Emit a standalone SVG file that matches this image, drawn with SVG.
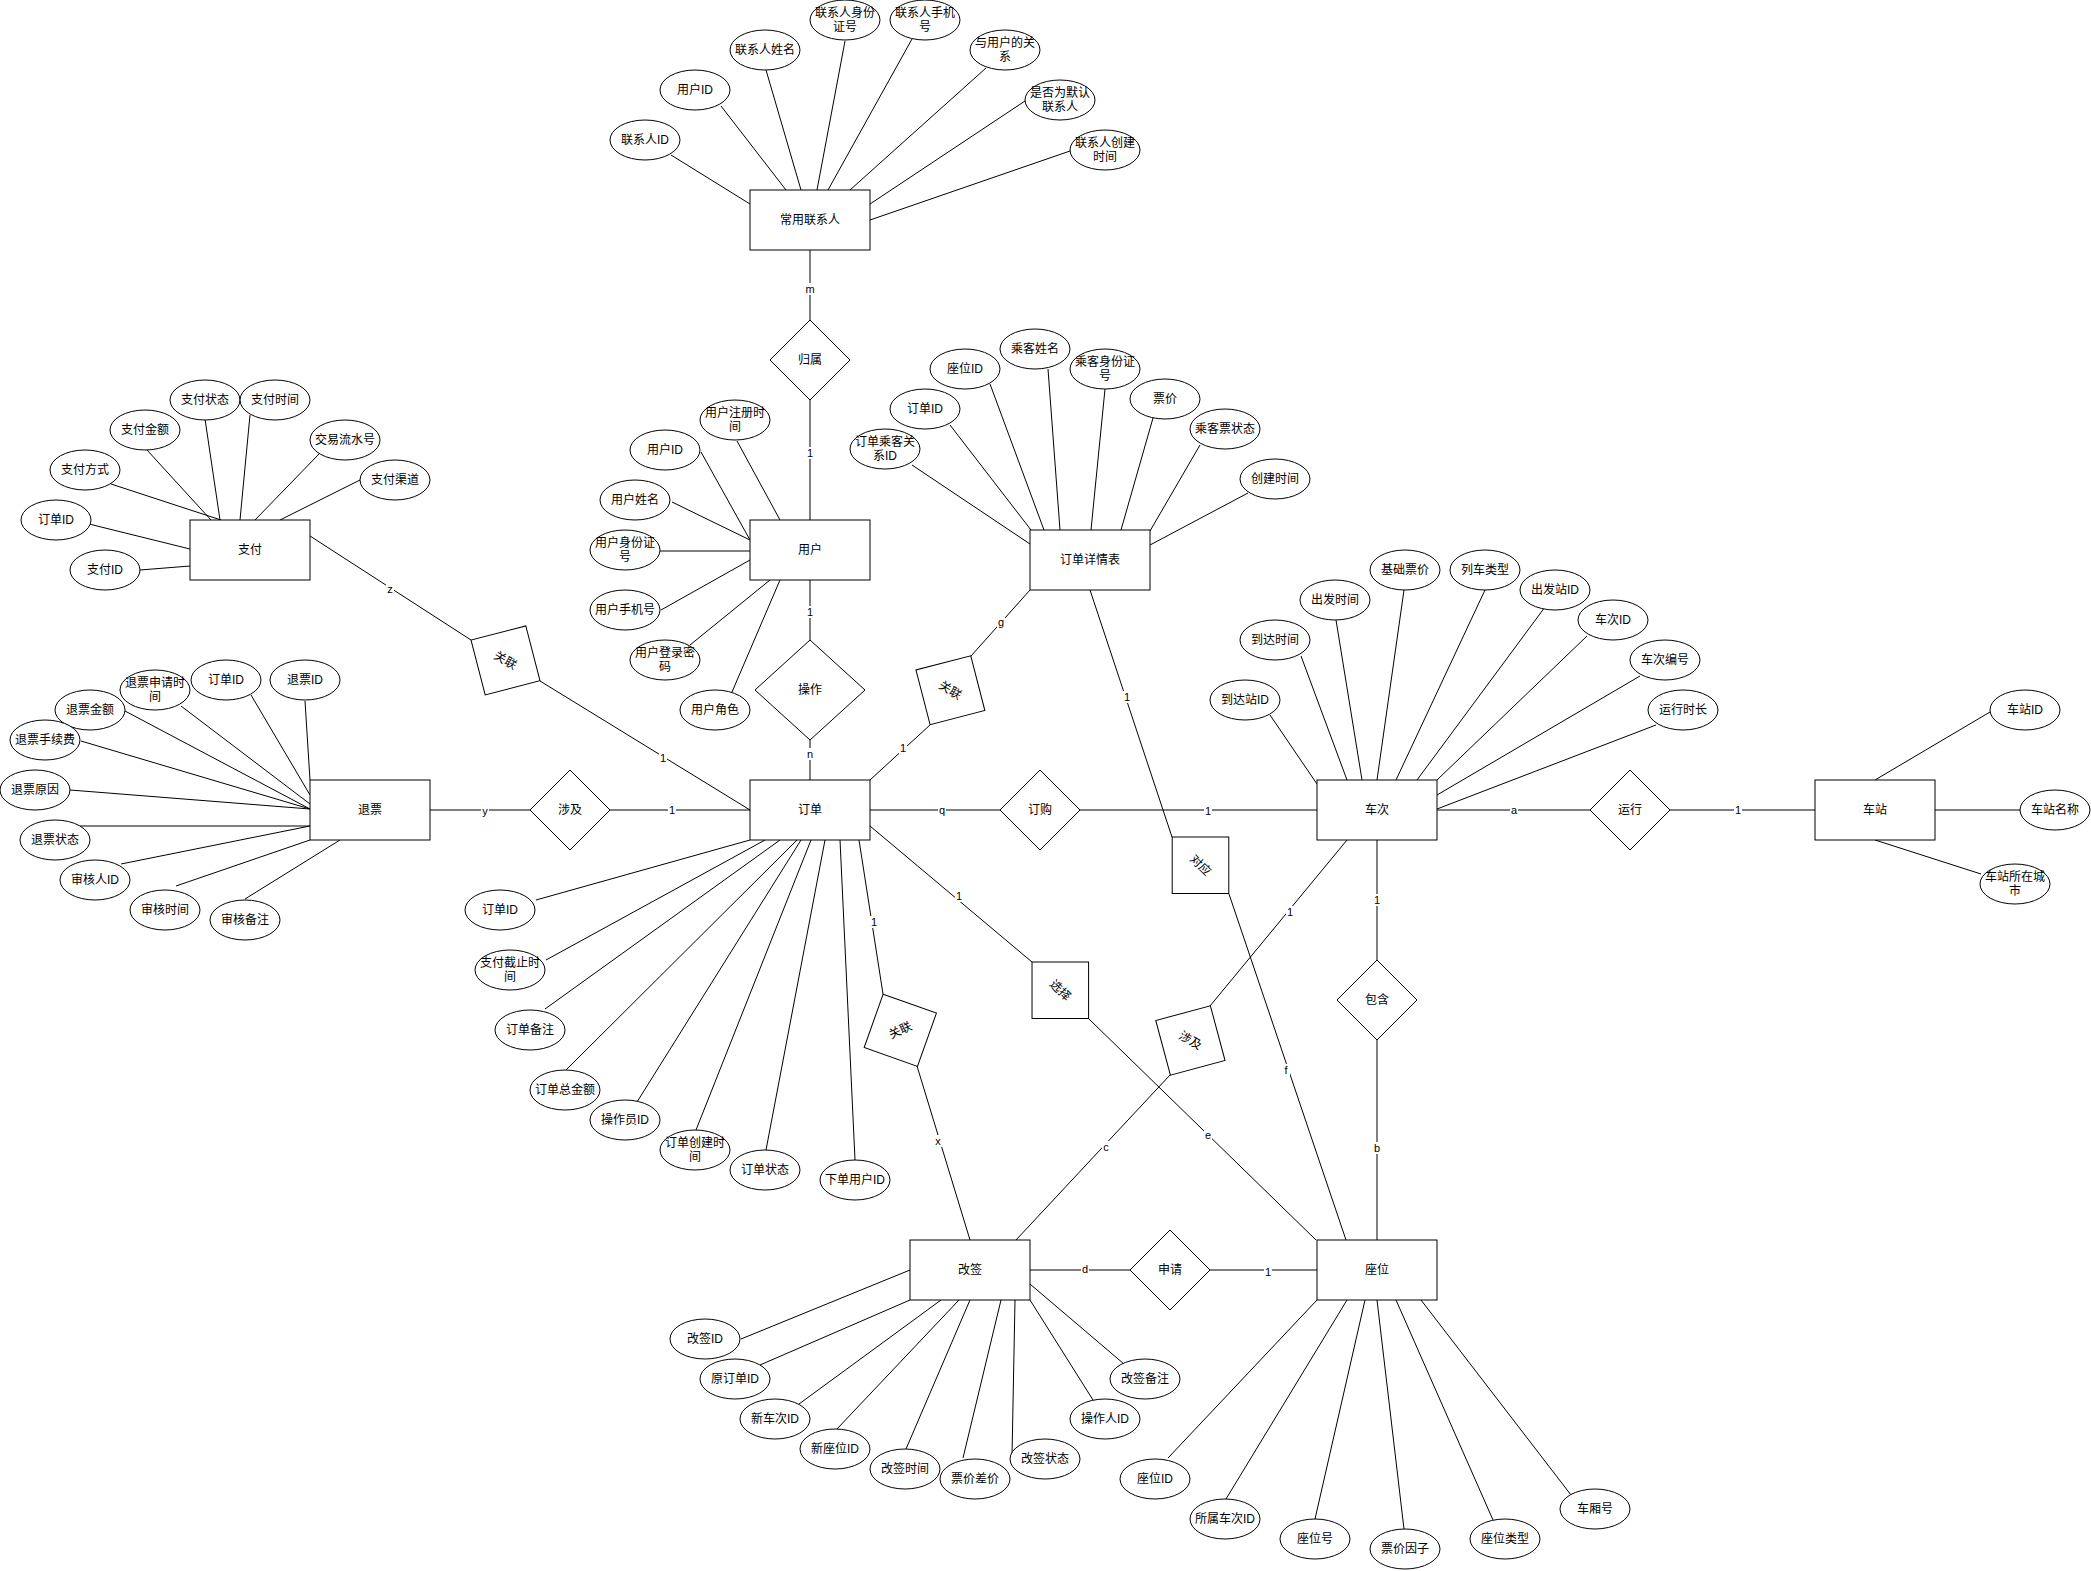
<svg xmlns="http://www.w3.org/2000/svg" width="2091" height="1571" viewBox="0 0 2091 1571">
<style>
.bg{fill:#fff}
.n{fill:#fff;stroke:#000;stroke-width:1}
.c line{stroke:#000;stroke-width:1;fill:none}
.lb{fill:#fff;stroke:none}
text{font-family:"Liberation Sans","Noto Sans CJK SC",sans-serif;font-size:12px;text-anchor:middle;dominant-baseline:central;fill:#000}
.lt{font-size:11px}
</style>
<rect class="bg" x="0" y="0" width="2091" height="1571"/>
<g id="connectors" class="c">
<!-- relationship lines -->
<line x1="810" y1="250" x2="810" y2="320"/>
<line x1="810" y1="400" x2="810" y2="520"/>
<line x1="810" y1="580" x2="810" y2="640"/>
<line x1="810" y1="740" x2="810" y2="780"/>
<line x1="870" y1="810" x2="1000" y2="810"/>
<line x1="1080" y1="810" x2="1317" y2="810"/>
<line x1="430" y1="810" x2="530" y2="810"/>
<line x1="610" y1="810" x2="750" y2="810"/>
<line x1="1437" y1="810" x2="1590" y2="810"/>
<line x1="1670" y1="810" x2="1815" y2="810"/>
<line x1="1377" y1="840" x2="1377" y2="960"/>
<line x1="1377" y1="1040" x2="1377" y2="1240"/>
<line x1="1030" y1="1270" x2="1130" y2="1270"/>
<line x1="1210" y1="1270" x2="1317" y2="1270"/>
<line x1="310" y1="536" x2="471" y2="640"/>
<line x1="540" y1="681" x2="750" y2="810"/>
<line x1="870" y1="780" x2="930" y2="725"/>
<line x1="971" y1="656" x2="1030" y2="590"/>
<line x1="1090" y1="590" x2="1172" y2="837"/>
<line x1="1229" y1="894" x2="1346" y2="1240"/>
<line x1="870" y1="826" x2="1032" y2="962"/>
<line x1="1089" y1="1019" x2="1316" y2="1240"/>
<line x1="859" y1="840" x2="883" y2="994"/>
<line x1="917" y1="1066" x2="970" y2="1240"/>
<line x1="1347" y1="840" x2="1210" y2="1006"/>
<line x1="1170" y1="1075" x2="1016" y2="1240"/>
<!-- 常用联系人 attributes -->
<line x1="671" y1="155" x2="750" y2="204"/>
<line x1="721" y1="106" x2="786" y2="190"/>
<line x1="766" y1="70" x2="801" y2="190"/>
<line x1="845" y1="41" x2="817" y2="190"/>
<line x1="912" y1="39" x2="828" y2="190"/>
<line x1="986" y1="68" x2="850" y2="190"/>
<line x1="1025" y1="101" x2="870" y2="204"/>
<line x1="1070" y1="151" x2="870" y2="220"/>
<!-- 用户 attributes -->
<line x1="737" y1="441" x2="780" y2="520"/>
<line x1="701" y1="452" x2="750" y2="540"/>
<line x1="672" y1="502" x2="750" y2="540"/>
<line x1="660" y1="551" x2="750" y2="551"/>
<line x1="661" y1="610" x2="750" y2="560"/>
<line x1="690" y1="645" x2="770" y2="580"/>
<line x1="732" y1="692" x2="780" y2="580"/>
<!-- 支付 attributes -->
<line x1="205" y1="419" x2="220" y2="520"/>
<line x1="250" y1="415" x2="240" y2="520"/>
<line x1="147" y1="450" x2="211" y2="520"/>
<line x1="319" y1="454" x2="255" y2="520"/>
<line x1="111" y1="484" x2="221" y2="520"/>
<line x1="360" y1="480" x2="280" y2="520"/>
<line x1="89" y1="524" x2="190" y2="549"/>
<line x1="140" y1="570" x2="190" y2="566"/>
<!-- 退票 attributes -->
<line x1="305" y1="701" x2="310" y2="780"/>
<line x1="251" y1="695" x2="310" y2="795"/>
<line x1="181" y1="706" x2="310" y2="804"/>
<line x1="125" y1="711" x2="310" y2="809"/>
<line x1="81" y1="741" x2="310" y2="809"/>
<line x1="70" y1="790" x2="310" y2="809"/>
<line x1="80" y1="826" x2="310" y2="826"/>
<line x1="121" y1="864" x2="310" y2="826"/>
<line x1="176" y1="886" x2="310" y2="840"/>
<line x1="245" y1="899" x2="340" y2="840"/>
<!-- 订单 attributes -->
<line x1="536" y1="900" x2="750" y2="840"/>
<line x1="546" y1="960" x2="765" y2="840"/>
<line x1="545" y1="1009" x2="780" y2="840"/>
<line x1="566" y1="1070" x2="797" y2="840"/>
<line x1="637" y1="1102" x2="801" y2="840"/>
<line x1="696" y1="1130" x2="811" y2="840"/>
<line x1="766" y1="1150" x2="825" y2="840"/>
<line x1="855" y1="1160" x2="840" y2="840"/>
<!-- 订单详情表 attributes -->
<line x1="912" y1="465" x2="1030" y2="544"/>
<line x1="950" y1="425" x2="1031" y2="530"/>
<line x1="990" y1="384" x2="1044" y2="530"/>
<line x1="1048" y1="369" x2="1060" y2="530"/>
<line x1="1105" y1="389" x2="1091" y2="530"/>
<line x1="1153" y1="418" x2="1121" y2="530"/>
<line x1="1200" y1="445" x2="1150" y2="531"/>
<line x1="1248" y1="493" x2="1150" y2="545"/>
<!-- 车次 attributes -->
<line x1="1270" y1="715" x2="1317" y2="784"/>
<line x1="1301" y1="656" x2="1347" y2="780"/>
<line x1="1336" y1="620" x2="1362" y2="780"/>
<line x1="1404" y1="590" x2="1377" y2="780"/>
<line x1="1485" y1="590" x2="1396" y2="780"/>
<line x1="1545" y1="607" x2="1417" y2="780"/>
<line x1="1587" y1="636" x2="1437" y2="780"/>
<line x1="1640" y1="676" x2="1437" y2="795"/>
<line x1="1656" y1="725" x2="1437" y2="809"/>
<!-- 车站 attributes -->
<line x1="1990" y1="712" x2="1875" y2="780"/>
<line x1="1935" y1="810" x2="2021" y2="810"/>
<line x1="1875" y1="840" x2="1981" y2="874"/>
<!-- 改签 attributes -->
<line x1="741" y1="1339" x2="910" y2="1270"/>
<line x1="760" y1="1365" x2="910" y2="1300"/>
<line x1="799" y1="1404" x2="941" y2="1300"/>
<line x1="836" y1="1430" x2="959" y2="1300"/>
<line x1="906" y1="1449" x2="970" y2="1300"/>
<line x1="963" y1="1458" x2="1001" y2="1300"/>
<line x1="1012" y1="1456" x2="1015" y2="1300"/>
<line x1="1093" y1="1400" x2="1030" y2="1300"/>
<line x1="1124" y1="1364" x2="1030" y2="1284"/>
<!-- 座位 attributes -->
<line x1="1168" y1="1458" x2="1317" y2="1300"/>
<line x1="1226" y1="1499" x2="1347" y2="1300"/>
<line x1="1315" y1="1519" x2="1365" y2="1300"/>
<line x1="1404" y1="1529" x2="1377" y2="1300"/>
<line x1="1493" y1="1520" x2="1396" y2="1300"/>
<line x1="1571" y1="1495" x2="1421" y2="1300"/>
<!-- edge labels -->
<g id="labels">
<rect class="lb" x="805" y="283" width="10" height="12"/><text class="lt" x="810" y="289">m</text>
<rect class="lb" x="806" y="447" width="8" height="12"/><text class="lt" x="810" y="453">1</text>
<rect class="lb" x="806" y="606" width="8" height="12"/><text class="lt" x="810" y="612">1</text>
<rect class="lb" x="806" y="748" width="8" height="12"/><text class="lt" x="810" y="754">n</text>
<rect class="lb" x="386" y="583" width="8" height="12"/><text class="lt" x="390" y="589">z</text>
<rect class="lb" x="659" y="752" width="8" height="12"/><text class="lt" x="663" y="758">1</text>
<rect class="lb" x="481" y="805" width="8" height="12"/><text class="lt" x="485" y="811">y</text>
<rect class="lb" x="668" y="804" width="8" height="12"/><text class="lt" x="672" y="810">1</text>
<rect class="lb" x="899" y="742" width="8" height="12"/><text class="lt" x="903" y="748">1</text>
<rect class="lb" x="997" y="616" width="8" height="12"/><text class="lt" x="1001" y="622">g</text>
<rect class="lb" x="1123" y="691" width="8" height="12"/><text class="lt" x="1127" y="697">1</text>
<rect class="lb" x="938" y="804" width="8" height="12"/><text class="lt" x="942" y="810">q</text>
<rect class="lb" x="1204" y="805" width="8" height="12"/><text class="lt" x="1208" y="811">1</text>
<rect class="lb" x="955" y="890" width="8" height="12"/><text class="lt" x="959" y="896">1</text>
<rect class="lb" x="870" y="916" width="8" height="12"/><text class="lt" x="874" y="922">1</text>
<rect class="lb" x="934" y="1135" width="8" height="12"/><text class="lt" x="938" y="1141">x</text>
<rect class="lb" x="1286" y="906" width="8" height="12"/><text class="lt" x="1290" y="912">1</text>
<rect class="lb" x="1102" y="1141" width="8" height="12"/><text class="lt" x="1106" y="1147">c</text>
<rect class="lb" x="1204" y="1129" width="8" height="12"/><text class="lt" x="1208" y="1135">e</text>
<rect class="lb" x="1282" y="1064" width="8" height="12"/><text class="lt" x="1286" y="1070">f</text>
<rect class="lb" x="1510" y="804" width="8" height="12"/><text class="lt" x="1514" y="810">a</text>
<rect class="lb" x="1734" y="804" width="8" height="12"/><text class="lt" x="1738" y="810">1</text>
<rect class="lb" x="1373" y="894" width="8" height="12"/><text class="lt" x="1377" y="900">1</text>
<rect class="lb" x="1373" y="1142" width="8" height="12"/><text class="lt" x="1377" y="1148">b</text>
<rect class="lb" x="1081" y="1263" width="8" height="12"/><text class="lt" x="1085" y="1269">d</text>
<rect class="lb" x="1264" y="1266" width="8" height="12"/><text class="lt" x="1268" y="1272">1</text>
</g>
</g>
<!-- entities -->
<g id="entity-changyonglianxiren"><rect class="n" x="750" y="190" width="120" height="60"/><text x="810" y="220">常用联系人</text></g>
<g id="entity-yonghu"><rect class="n" x="750" y="520" width="120" height="60"/><text x="810" y="550">用户</text></g>
<g id="entity-dingdan"><rect class="n" x="750" y="780" width="120" height="60"/><text x="810" y="810">订单</text></g>
<g id="entity-dingdanxiangqing"><rect class="n" x="1030" y="530" width="120" height="60"/><text x="1090" y="560">订单详情表</text></g>
<g id="entity-checi"><rect class="n" x="1317" y="780" width="120" height="60"/><text x="1377" y="810">车次</text></g>
<g id="entity-chezhan"><rect class="n" x="1815" y="780" width="120" height="60"/><text x="1875" y="810">车站</text></g>
<g id="entity-tuipiao"><rect class="n" x="310" y="780" width="120" height="60"/><text x="370" y="810">退票</text></g>
<g id="entity-zhifu"><rect class="n" x="190" y="520" width="120" height="60"/><text x="250" y="550">支付</text></g>
<g id="entity-gaiqian"><rect class="n" x="910" y="1240" width="120" height="60"/><text x="970" y="1270">改签</text></g>
<g id="entity-zuowei"><rect class="n" x="1317" y="1240" width="120" height="60"/><text x="1377" y="1270">座位</text></g>
<!-- relationships -->
<g id="rel-guishu"><polygon class="n" points="810,320 850,360 810,400 770,360"/><text x="810" y="360">归属</text></g>
<g id="rel-caozuo"><polygon class="n" points="810,640 865,690 810,740 755,690"/><text x="810" y="690">操作</text></g>
<g id="rel-dinggou"><polygon class="n" points="1040,770 1080,810 1040,850 1000,810"/><text x="1040" y="810">订购</text></g>
<g id="rel-sheji1"><polygon class="n" points="570,770 610,810 570,850 530,810"/><text x="570" y="810">涉及</text></g>
<g id="rel-yunxing"><polygon class="n" points="1630,770 1670,810 1630,850 1590,810"/><text x="1630" y="810">运行</text></g>
<g id="rel-baohan"><polygon class="n" points="1377,960 1417,1000 1377,1040 1337,1000"/><text x="1377" y="1000">包含</text></g>
<g id="rel-shenqing"><polygon class="n" points="1170,1230 1210,1270 1170,1310 1130,1270"/><text x="1170" y="1270">申请</text></g>
<g id="rel-guanlian1" transform="rotate(30.5 505.5 660.4)"><polygon class="n" points="505.5,620.4 545.5,660.4 505.5,700.4 465.5,660.4"/><text x="505.5" y="660.4">关联</text></g>
<g id="rel-guanlian2" transform="rotate(30.5 950.4 690.2)"><polygon class="n" points="950.4,650.2 990.4,690.2 950.4,730.2 910.4,690.2"/><text x="950.4" y="690.2">关联</text></g>
<g id="rel-duiying" transform="rotate(45 1200.5 865.3)"><polygon class="n" points="1200.5,825.3 1240.5,865.3 1200.5,905.3 1160.5,865.3"/><text x="1200.5" y="865.3">对应</text></g>
<g id="rel-xuanze" transform="rotate(45 1060.3 990.3)"><polygon class="n" points="1060.3,950.3 1100.3,990.3 1060.3,1030.3 1020.3,990.3"/><text x="1060.3" y="990.3">选择</text></g>
<g id="rel-guanlian3" transform="rotate(-25.4 900.3 1030.3)"><polygon class="n" points="900.3,990.3 940.3,1030.3 900.3,1070.3 860.3,1030.3"/><text x="900.3" y="1030.3">关联</text></g>
<g id="rel-sheji2" transform="rotate(30 1190.4 1040.5)"><polygon class="n" points="1190.4,1000.5 1230.4,1040.5 1190.4,1080.5 1150.4,1040.5"/><text x="1190.4" y="1040.5">涉及</text></g>
<!-- attributes: 常用联系人 -->
<g id="a-lxr-id"><ellipse class="n" cx="645" cy="140" rx="35" ry="20"/><text x="645" y="140">联系人ID</text></g>
<g id="a-lxr-uid"><ellipse class="n" cx="695" cy="90" rx="35" ry="20"/><text x="695" y="90">用户ID</text></g>
<g id="a-lxr-name"><ellipse class="n" cx="765" cy="50" rx="35" ry="20"/><text x="765" y="50">联系人姓名</text></g>
<g id="a-lxr-idno"><ellipse class="n" cx="845" cy="20" rx="35" ry="20"/><text x="845" y="13">联系人身份</text><text x="845" y="27">证号</text></g>
<g id="a-lxr-phone"><ellipse class="n" cx="925" cy="20" rx="35" ry="20"/><text x="925" y="13">联系人手机</text><text x="925" y="27">号</text></g>
<g id="a-lxr-rel"><ellipse class="n" cx="1005" cy="50" rx="35" ry="20"/><text x="1005" y="43">与用户的关</text><text x="1005" y="57">系</text></g>
<g id="a-lxr-default"><ellipse class="n" cx="1060" cy="100" rx="35" ry="20"/><text x="1060" y="93">是否为默认</text><text x="1060" y="107">联系人</text></g>
<g id="a-lxr-ctime"><ellipse class="n" cx="1105" cy="150" rx="35" ry="20"/><text x="1105" y="143">联系人创建</text><text x="1105" y="157">时间</text></g>
<!-- attributes: 用户 -->
<g id="a-u-regtime"><ellipse class="n" cx="735" cy="420" rx="35" ry="20"/><text x="735" y="413">用户注册时</text><text x="735" y="427">间</text></g>
<g id="a-u-id"><ellipse class="n" cx="665" cy="450" rx="35" ry="20"/><text x="665" y="450">用户ID</text></g>
<g id="a-u-name"><ellipse class="n" cx="635" cy="500" rx="35" ry="20"/><text x="635" y="500">用户姓名</text></g>
<g id="a-u-idno"><ellipse class="n" cx="625" cy="550" rx="35" ry="20"/><text x="625" y="543">用户身份证</text><text x="625" y="557">号</text></g>
<g id="a-u-phone"><ellipse class="n" cx="625" cy="610" rx="35" ry="20"/><text x="625" y="610">用户手机号</text></g>
<g id="a-u-pwd"><ellipse class="n" cx="665" cy="660" rx="35" ry="20"/><text x="665" y="653">用户登录密</text><text x="665" y="667">码</text></g>
<g id="a-u-role"><ellipse class="n" cx="715" cy="710" rx="35" ry="20"/><text x="715" y="710">用户角色</text></g>
<!-- attributes: 支付 -->
<g id="a-p-status"><ellipse class="n" cx="205" cy="400" rx="35" ry="20"/><text x="205" y="400">支付状态</text></g>
<g id="a-p-time"><ellipse class="n" cx="275" cy="400" rx="35" ry="20"/><text x="275" y="400">支付时间</text></g>
<g id="a-p-amount"><ellipse class="n" cx="145" cy="430" rx="35" ry="20"/><text x="145" y="430">支付金额</text></g>
<g id="a-p-serial"><ellipse class="n" cx="345" cy="440" rx="35" ry="20"/><text x="345" y="440">交易流水号</text></g>
<g id="a-p-method"><ellipse class="n" cx="85" cy="470" rx="35" ry="20"/><text x="85" y="470">支付方式</text></g>
<g id="a-p-channel"><ellipse class="n" cx="395" cy="480" rx="35" ry="20"/><text x="395" y="480">支付渠道</text></g>
<g id="a-p-oid"><ellipse class="n" cx="56" cy="520" rx="35" ry="20"/><text x="56" y="520">订单ID</text></g>
<g id="a-p-id"><ellipse class="n" cx="105" cy="570" rx="35" ry="20"/><text x="105" y="570">支付ID</text></g>
<!-- attributes: 退票 -->
<g id="a-r-apptime"><ellipse class="n" cx="155" cy="690" rx="35" ry="20"/><text x="155" y="683">退票申请时</text><text x="155" y="697">间</text></g>
<g id="a-r-oid"><ellipse class="n" cx="226" cy="680" rx="35" ry="20"/><text x="226" y="680">订单ID</text></g>
<g id="a-r-id"><ellipse class="n" cx="305" cy="680" rx="35" ry="20"/><text x="305" y="680">退票ID</text></g>
<g id="a-r-amount"><ellipse class="n" cx="90" cy="710" rx="35" ry="20"/><text x="90" y="710">退票金额</text></g>
<g id="a-r-fee"><ellipse class="n" cx="45" cy="740" rx="35" ry="20"/><text x="45" y="740">退票手续费</text></g>
<g id="a-r-reason"><ellipse class="n" cx="35" cy="790" rx="35" ry="20"/><text x="35" y="790">退票原因</text></g>
<g id="a-r-status"><ellipse class="n" cx="55" cy="840" rx="35" ry="20"/><text x="55" y="840">退票状态</text></g>
<g id="a-r-auditor"><ellipse class="n" cx="95" cy="880" rx="35" ry="20"/><text x="95" y="880">审核人ID</text></g>
<g id="a-r-atime"><ellipse class="n" cx="165" cy="910" rx="35" ry="20"/><text x="165" y="910">审核时间</text></g>
<g id="a-r-anote"><ellipse class="n" cx="245" cy="920" rx="35" ry="20"/><text x="245" y="920">审核备注</text></g>
<!-- attributes: 订单 -->
<g id="a-o-id"><ellipse class="n" cx="500" cy="910" rx="35" ry="20"/><text x="500" y="910">订单ID</text></g>
<g id="a-o-deadline"><ellipse class="n" cx="510" cy="970" rx="35" ry="20"/><text x="510" y="963">支付截止时</text><text x="510" y="977">间</text></g>
<g id="a-o-note"><ellipse class="n" cx="530" cy="1030" rx="35" ry="20"/><text x="530" y="1030">订单备注</text></g>
<g id="a-o-total"><ellipse class="n" cx="565" cy="1090" rx="35" ry="20"/><text x="565" y="1090">订单总金额</text></g>
<g id="a-o-op"><ellipse class="n" cx="625" cy="1120" rx="35" ry="20"/><text x="625" y="1120">操作员ID</text></g>
<g id="a-o-ctime"><ellipse class="n" cx="695" cy="1150" rx="35" ry="20"/><text x="695" y="1143">订单创建时</text><text x="695" y="1157">间</text></g>
<g id="a-o-status"><ellipse class="n" cx="765" cy="1170" rx="35" ry="20"/><text x="765" y="1170">订单状态</text></g>
<g id="a-o-uid"><ellipse class="n" cx="855" cy="1180" rx="35" ry="20"/><text x="855" y="1180">下单用户ID</text></g>
<!-- attributes: 订单详情表 -->
<g id="a-d-relid"><ellipse class="n" cx="885" cy="449" rx="35" ry="20"/><text x="885" y="442">订单乘客关</text><text x="885" y="456">系ID</text></g>
<g id="a-d-oid"><ellipse class="n" cx="925" cy="409" rx="35" ry="20"/><text x="925" y="409">订单ID</text></g>
<g id="a-d-seat"><ellipse class="n" cx="965" cy="369" rx="35" ry="20"/><text x="965" y="369">座位ID</text></g>
<g id="a-d-name"><ellipse class="n" cx="1035" cy="349" rx="35" ry="20"/><text x="1035" y="349">乘客姓名</text></g>
<g id="a-d-idno"><ellipse class="n" cx="1105" cy="369" rx="35" ry="20"/><text x="1105" y="362">乘客身份证</text><text x="1105" y="376">号</text></g>
<g id="a-d-price"><ellipse class="n" cx="1165" cy="399" rx="35" ry="20"/><text x="1165" y="399">票价</text></g>
<g id="a-d-status"><ellipse class="n" cx="1225" cy="429" rx="35" ry="20"/><text x="1225" y="429">乘客票状态</text></g>
<g id="a-d-ctime"><ellipse class="n" cx="1275" cy="479" rx="35" ry="20"/><text x="1275" y="479">创建时间</text></g>
<!-- attributes: 车次 -->
<g id="a-t-arrst"><ellipse class="n" cx="1245" cy="700" rx="35" ry="20"/><text x="1245" y="700">到达站ID</text></g>
<g id="a-t-arrtime"><ellipse class="n" cx="1275" cy="640" rx="35" ry="20"/><text x="1275" y="640">到达时间</text></g>
<g id="a-t-deptime"><ellipse class="n" cx="1335" cy="600" rx="35" ry="20"/><text x="1335" y="600">出发时间</text></g>
<g id="a-t-base"><ellipse class="n" cx="1405" cy="570" rx="35" ry="20"/><text x="1405" y="570">基础票价</text></g>
<g id="a-t-type"><ellipse class="n" cx="1485" cy="570" rx="35" ry="20"/><text x="1485" y="570">列车类型</text></g>
<g id="a-t-depst"><ellipse class="n" cx="1555" cy="590" rx="35" ry="20"/><text x="1555" y="590">出发站ID</text></g>
<g id="a-t-id"><ellipse class="n" cx="1613" cy="620" rx="35" ry="20"/><text x="1613" y="620">车次ID</text></g>
<g id="a-t-no"><ellipse class="n" cx="1665" cy="660" rx="35" ry="20"/><text x="1665" y="660">车次编号</text></g>
<g id="a-t-dur"><ellipse class="n" cx="1683" cy="710" rx="35" ry="20"/><text x="1683" y="710">运行时长</text></g>
<!-- attributes: 车站 -->
<g id="a-s-id"><ellipse class="n" cx="2025" cy="710" rx="35" ry="20"/><text x="2025" y="710">车站ID</text></g>
<g id="a-s-name"><ellipse class="n" cx="2055" cy="810" rx="35" ry="20"/><text x="2055" y="810">车站名称</text></g>
<g id="a-s-city"><ellipse class="n" cx="2015" cy="884" rx="35" ry="20"/><text x="2015" y="877">车站所在城</text><text x="2015" y="891">市</text></g>
<!-- attributes: 改签 -->
<g id="a-g-id"><ellipse class="n" cx="705" cy="1339" rx="35" ry="20"/><text x="705" y="1339">改签ID</text></g>
<g id="a-g-oid"><ellipse class="n" cx="735" cy="1379" rx="35" ry="20"/><text x="735" y="1379">原订单ID</text></g>
<g id="a-g-train"><ellipse class="n" cx="775" cy="1419" rx="35" ry="20"/><text x="775" y="1419">新车次ID</text></g>
<g id="a-g-seat"><ellipse class="n" cx="835" cy="1449" rx="35" ry="20"/><text x="835" y="1449">新座位ID</text></g>
<g id="a-g-time"><ellipse class="n" cx="905" cy="1469" rx="35" ry="20"/><text x="905" y="1469">改签时间</text></g>
<g id="a-g-diff"><ellipse class="n" cx="975" cy="1479" rx="35" ry="20"/><text x="975" y="1479">票价差价</text></g>
<g id="a-g-status"><ellipse class="n" cx="1045" cy="1459" rx="35" ry="20"/><text x="1045" y="1459">改签状态</text></g>
<g id="a-g-op"><ellipse class="n" cx="1105" cy="1419" rx="35" ry="20"/><text x="1105" y="1419">操作人ID</text></g>
<g id="a-g-note"><ellipse class="n" cx="1145" cy="1379" rx="35" ry="20"/><text x="1145" y="1379">改签备注</text></g>
<!-- attributes: 座位 -->
<g id="a-z-id"><ellipse class="n" cx="1155" cy="1479" rx="35" ry="20"/><text x="1155" y="1479">座位ID</text></g>
<g id="a-z-train"><ellipse class="n" cx="1225" cy="1519" rx="35" ry="20"/><text x="1225" y="1519">所属车次ID</text></g>
<g id="a-z-no"><ellipse class="n" cx="1315" cy="1539" rx="35" ry="20"/><text x="1315" y="1539">座位号</text></g>
<g id="a-z-factor"><ellipse class="n" cx="1405" cy="1549" rx="35" ry="20"/><text x="1405" y="1549">票价因子</text></g>
<g id="a-z-type"><ellipse class="n" cx="1505" cy="1539" rx="35" ry="20"/><text x="1505" y="1539">座位类型</text></g>
<g id="a-z-car"><ellipse class="n" cx="1595" cy="1509" rx="35" ry="20"/><text x="1595" y="1509">车厢号</text></g>
</svg>
